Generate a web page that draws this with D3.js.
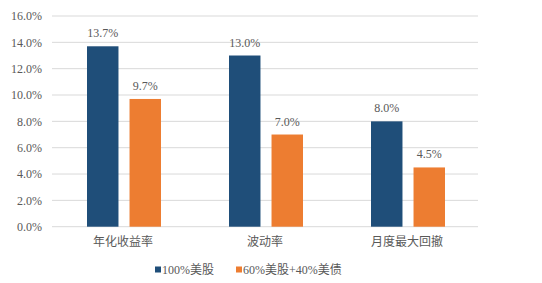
<!DOCTYPE html>
<meta charset="utf-8">
<head>
<style>
  body { margin: 0; background: #fff; }
  text { font-family: "Liberation Serif", "Noto Sans CJK SC", serif; fill: #595959; }
</style>
</head>
<body>
<div id="chart"></div>
<script src="https://d3js.org/d3.v7.min.js"></script>
<script>
// data
var categories = ["年化收益率", "波动率", "月度最大回撤"];
var seriesNames = ["100%美股", "60%美股+40%美债"];
var stockValues = [13.7, 13.0, 8.0];
var mixValues = [9.7, 7.0, 4.5];
var yTicks = [0, 2, 4, 6, 8, 10, 12, 14, 16];
var colors = ["#1f4e79", "#ed7d31"];

var W = 542, H = 283;
var margin = {top: 16, right: 64, bottom: 56, left: 52};
var width = 478 - margin.left, height = 226.7 - margin.top;

var svg = d3.select("#chart").append("svg")
  .attr("width", W).attr("height", H);
var g = svg.append("g")
  .attr("transform", "translate(" + margin.left + "," + margin.top + ")");

var x0 = d3.scaleBand().domain(categories).range([0, width]);
var x1 = d3.scaleBand().domain(seriesNames)
  .range([x0.bandwidth() / 2 - 36, x0.bandwidth() / 2 + 38]).paddingInner(0.26);
var y = d3.scaleLinear().domain([0, 16]).range([height, 0]);

// grid lines
g.selectAll(".grid").data(yTicks).enter().append("line")
  .attr("x1", 0).attr("x2", width)
  .attr("y1", function(d) { return y(d); }).attr("y2", function(d) { return y(d); })
  .attr("stroke", "#d9d9d9").attr("stroke-width", 1);

// y axis labels
var yAxis = g.append("g")
  .call(d3.axisLeft(y).tickValues(yTicks).tickSize(0).tickPadding(10)
    .tickFormat(function(d) { return d.toFixed(1) + "%"; }));
yAxis.select(".domain").remove();
yAxis.selectAll("text").style("font-size", "12px").attr("fill", "#595959");

var rows = categories.map(function(c, i) {
  return {cat: c, vals: [stockValues[i], mixValues[i]]};
});

var groups = g.selectAll(".grp").data(rows).enter().append("g")
  .attr("transform", function(d) { return "translate(" + x0(d.cat) + ",0)"; });

groups.selectAll("rect").data(function(d) {
    return d.vals.map(function(v, j) { return {name: seriesNames[j], v: v, j: j}; });
  }).enter().append("rect")
  .attr("x", function(d) { return x1(d.name); })
  .attr("width", x1.bandwidth())
  .attr("y", function(d) { return y(d.v); })
  .attr("height", function(d) { return height - y(d.v); })
  .attr("fill", function(d) { return colors[d.j]; });

groups.selectAll(".val").data(function(d) {
    return d.vals.map(function(v, j) { return {name: seriesNames[j], v: v}; });
  }).enter().append("text")
  .attr("x", function(d) { return x1(d.name) + x1.bandwidth() / 2; })
  .attr("y", function(d) { return y(d.v) - 9; })
  .attr("text-anchor", "middle")
  .style("font-size", "12px")
  .text(function(d) { return d.v.toFixed(1) + "%"; });

// category labels
var xAxis = g.append("g")
  .attr("transform", "translate(0," + height + ")")
  .call(d3.axisBottom(x0).tickSize(0).tickPadding(11));
xAxis.select(".domain").remove();
xAxis.selectAll("text").style("font-size", "12px").attr("fill", "#595959");

// legend
var legX = [155, 236];
var leg = svg.selectAll(".leg").data(seriesNames).enter().append("g")
  .attr("transform", function(d, i) { return "translate(" + legX[i] + ",270)"; });
leg.append("rect").attr("x", 0).attr("y", -3.5).attr("width", 6).attr("height", 6)
  .attr("fill", function(d, i) { return colors[i]; });
leg.append("text").attr("x", 7).attr("y", 4)
  .style("font-size", "12px")
  .text(function(d) { return d; });
</script>
</body>
